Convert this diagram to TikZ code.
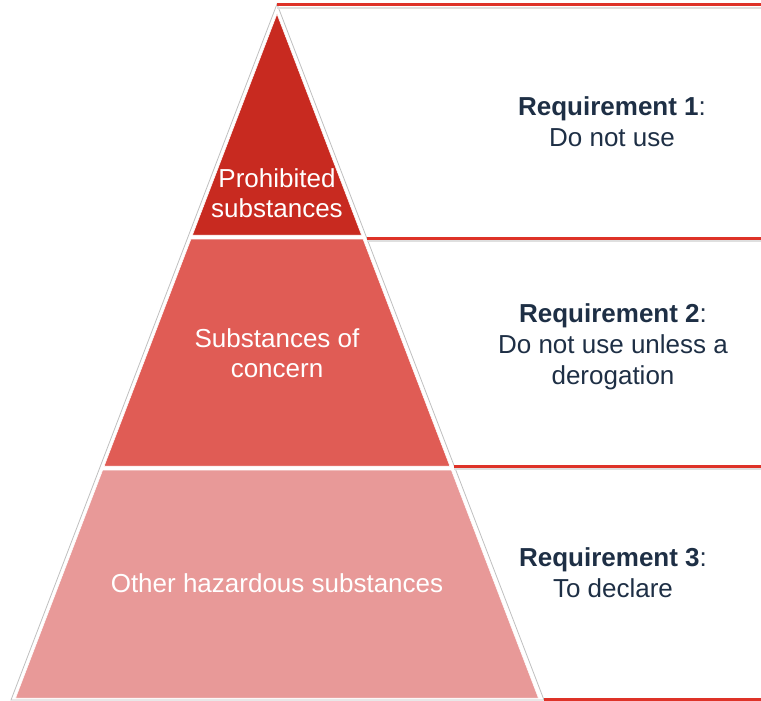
\documentclass[tikz,border=0pt]{standalone}
\usepackage{fontspec}
\setmainfont{Liberation Sans}
\definecolor{topred}{RGB}{200,42,32}
\definecolor{midred}{RGB}{224,92,85}
\definecolor{lowred}{RGB}{232,153,152}
\definecolor{linered}{RGB}{222,50,40}
\definecolor{navy}{RGB}{30,47,69}

\begin{document}
\begin{tikzpicture}[x=1pt,y=-1pt,
    layer/.style={draw=white, line width=0.5pt},
    rule/.style={linered, line width=3pt},
    ruleshadow/.style={gray!25, line width=2.5pt},
    lbl/.style={text=white, align=center, font=\fontsize{26}{30.5}\selectfont},
    req/.style={text=navy, align=center, font=\fontsize{26}{31}\selectfont}]
	\useasboundingbox (0,0) rectangle (761,701);
	% outline of the pyramid
	\draw[gray!50, line width=0.8pt] (277,4) -- (11,700) -- (544,700) -- cycle;
	% the three layers
	\fill[layer, fill=topred] (277,14) -- (192.5,235) -- (361.5,235) -- cycle;
	\fill[layer, fill=midred] (191,239) -- (104.2,466) -- (449.8,466) -- (363,239) -- cycle;
	\fill[layer, fill=lowred] (102.7,470) -- (15.6,698) -- (538.4,698) -- (451.3,470) -- cycle;
	% rules to the right
	\coordinate (r1a) at (277,5);   \coordinate (r1b) at (761,5);
	\coordinate (r2a) at (367,238); \coordinate (r2b) at (761,238);
	\coordinate (r3a) at (454,466); \coordinate (r3b) at (761,466);
	\coordinate (r4a) at (544,699); \coordinate (r4b) at (761,699);
	\foreach \n in {1,2,3} {
		\draw[ruleshadow] ([yshift=-3pt]r\n a) -- ([yshift=-3pt]r\n b);
	}
	\foreach \n in {1,2,3,4} {
		\draw[rule] (r\n a) -- (r\n b);
	}
	% labels
	\node[lbl] (prohib) at (277,193) {Prohibited\\substances};
	\node[lbl] (concern) at (277,353) {Substances of\\concern};
	\node[lbl] (hazard) at (277,583) {Other hazardous substances};
	\node[req] (req1) at (612,121.5) {\textbf{Requirement 1}:\\Do not use};
	\node[req] (req2) at (613,347) {\textbf{Requirement 2}:\\Do not use unless a\\derogation};
	\node[req] (req3) at (613,573) {\textbf{Requirement 3}:\\To declare};
\end{tikzpicture}
\end{document}
